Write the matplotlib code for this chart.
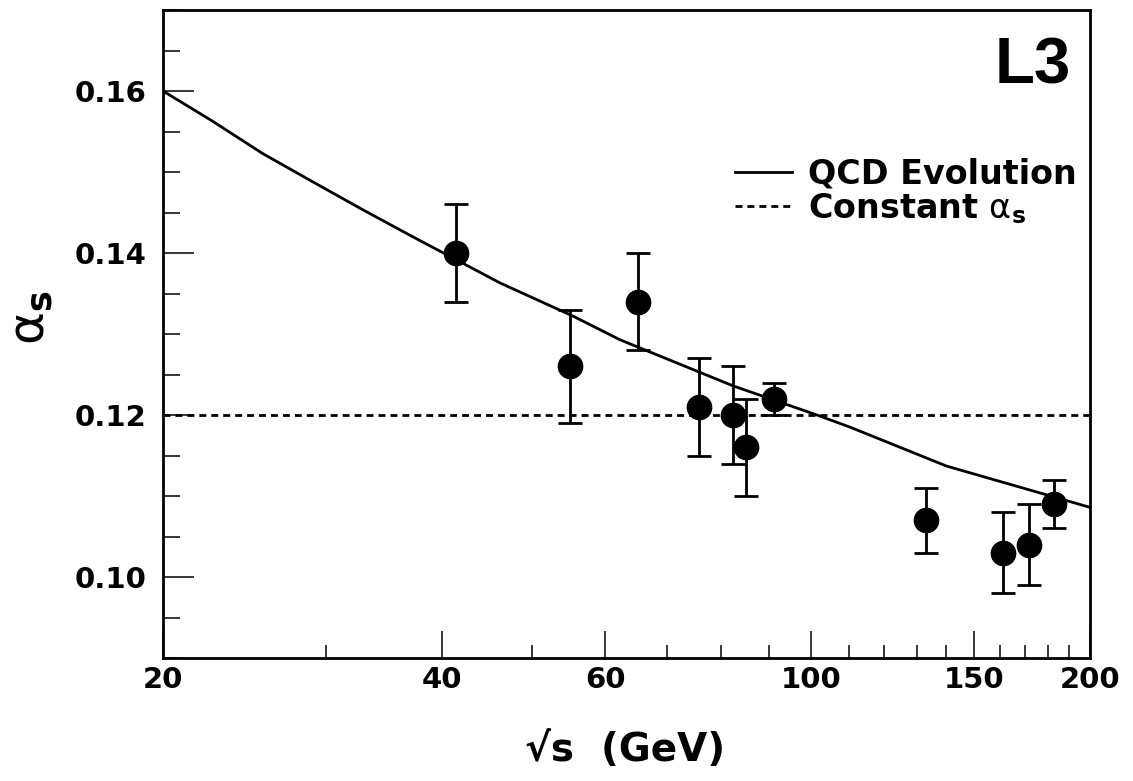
import matplotlib
matplotlib.use("Agg")
import matplotlib.pyplot as plt
from matplotlib.ticker import FixedLocator, FixedFormatter, MultipleLocator

# Data
energy = [41.4, 55.0, 65.0, 75.7, 82.3, 85.0, 91.2, 133.0, 161.0, 172.0, 183.0]
alpha_s = [0.140, 0.126, 0.134, 0.121, 0.120, 0.116, 0.122, 0.107, 0.103, 0.104, 0.109]
alpha_err = [0.006, 0.007, 0.006, 0.006, 0.006, 0.006, 0.002, 0.004, 0.005, 0.005, 0.003]

qcd_energy = [20, 22.6, 25.6, 29.0, 32.9, 37.2, 40.6, 46.2, 55.4, 62.2, 82.4, 101.5, 110.2, 140.0, 200]
qcd_alpha = [0.160, 0.1563, 0.1523, 0.1488, 0.1453, 0.1420, 0.1397, 0.1363, 0.1322, 0.1293,
             0.1236, 0.1200, 0.1185, 0.1137, 0.1086]

const_alpha = 0.120

x_major = [20, 40, 60, 100, 150, 200]
x_major_labels = ["20", "40", "60", "100", "150", "200"]
x_minor = [30, 50, 70, 80, 90, 110, 120, 130, 140, 160, 170, 180, 190]
y_major = [0.10, 0.12, 0.14, 0.16]
y_major_labels = ["0.10", "0.12", "0.14", "0.16"]

BF = "DejaVu Sans"

fig = plt.figure(figsize=(11.33, 7.81), dpi=100)
ax = fig.add_axes([163/1133, 1-658/781, (1090-163)/1133, (658-10)/781])

ax.set_xscale("log")
ax.set_xlim(20, 200)
ax.set_ylim(0.09, 0.17)

ax.plot(qcd_energy, qcd_alpha, color="black", lw=2.0, label="QCD Evolution", zorder=2,
        solid_joinstyle="round")
ax.axhline(const_alpha, color="black", lw=2.0, dashes=(2.5, 1.8),
           label=r"Constant $\mathrm{\alpha}_\mathbf{s}$", zorder=2)
ax.errorbar(energy, alpha_s, yerr=alpha_err, fmt="o", color="black", ms=17.5,
            elinewidth=2.0, capsize=8.7, capthick=2.0, zorder=3)

for s in ax.spines.values():
    s.set_linewidth(2.0)

ax.xaxis.set_major_locator(FixedLocator(x_major))
ax.xaxis.set_major_formatter(FixedFormatter(x_major_labels))
ax.xaxis.set_minor_locator(FixedLocator(x_minor))
ax.xaxis.set_minor_formatter(FixedFormatter([""] * len(x_minor)))
ax.yaxis.set_major_locator(FixedLocator(y_major))
ax.yaxis.set_major_formatter(FixedFormatter(y_major_labels))
ax.yaxis.set_minor_locator(MultipleLocator(0.005))

ax.tick_params(axis="x", which="major", direction="in", length=19.5, width=1.1, pad=6,
               top=False, labelsize=21)
ax.tick_params(axis="x", which="minor", direction="in", length=9.5, width=1.1, top=False)
ax.tick_params(axis="y", which="major", direction="in", length=22, width=1.1, pad=12,
               right=False, labelsize=21)
ax.tick_params(axis="y", which="minor", direction="in", length=12, width=1.1, right=False)
for lab in ax.get_xticklabels() + ax.get_yticklabels():
    lab.set_fontfamily(BF)
    lab.set_fontweight("bold")

fig.text(625/1133, 1-750/781, "\u221as  (GeV)", fontsize=28, fontweight="bold",
         family=BF, ha="center", va="center")
fig.text(31/1133, 1-318/781, r"$\mathrm{\alpha}_\mathbf{s}$", fontsize=36, fontweight="bold",
         family=BF, ha="center", va="center", rotation=90)

fig.text(1033/1133, 1-67/781, "L3", fontsize=47, fontweight="bold",
         family="Liberation Sans", ha="center", va="center")

leg = ax.legend(loc="upper left", bbox_to_anchor=(735/1133, 1-158/781),
                bbox_transform=fig.transFigure, frameon=False,
                prop={"family": BF, "weight": "bold", "size": 24},
                handlelength=1.7, handletextpad=0.5, labelspacing=0.0,
                borderaxespad=0, borderpad=0)

fig.savefig("out.png", dpi=100)
